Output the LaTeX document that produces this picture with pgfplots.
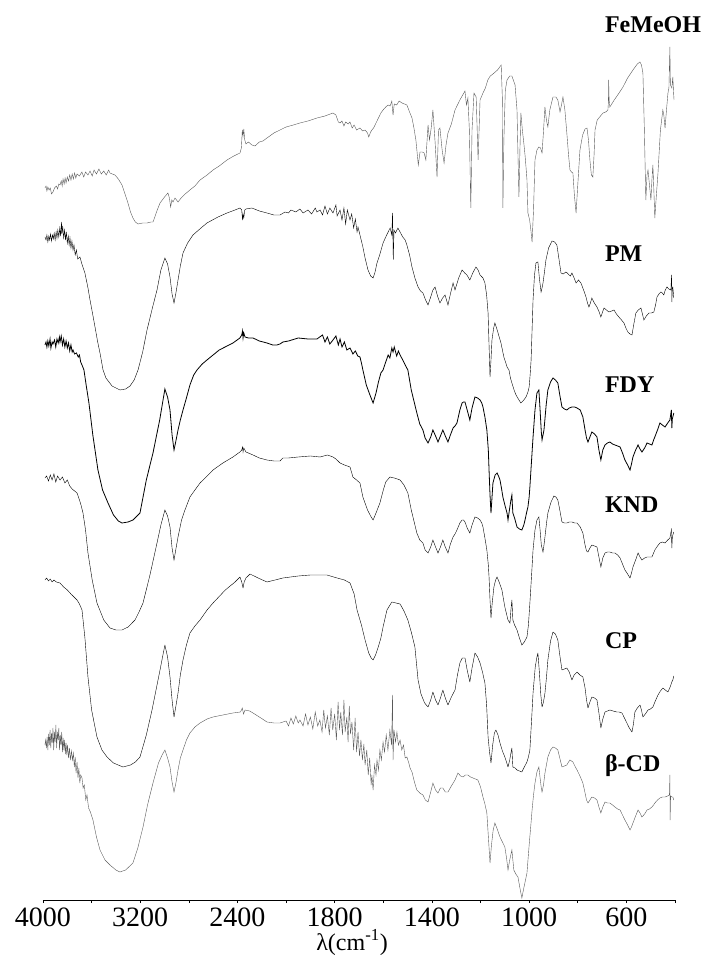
\documentclass[border=0pt]{standalone}
\usepackage{fontspec}
\setmainfont{Liberation Serif}
\usepackage{pgfplots}
\pgfplotsset{compat=1.18}
\definecolor{spec}{gray}{0.35}

\pgfplotstableread{
wn y
3984 712
3975 714
3968 709
3960 713
3950 710
3940 712
3930 706
3918 708
3905 712
3890 714
3880 711
3870 716
3860 715
3850 719
3842 714
3835 721
3826 716
3818 722
3810 717
3800 723
3790 719
3780 725
3770 720
3760 726
3750 721
3740 727
3730 722
3720 726
3700 724
3680 728
3665 723
3650 728
3630 725
3613 729
3595 724
3580 730
3560 726
3540 731
3520 726
3500 729
3480 725
3460 730
3449 727
3430 726
3408 725
3380 721
3350 715
3325 706
3301 697
3280 688
3260 682
3240 678
3218 676
3180 677
3144 677
3110 678
3095 678
3080 683
3060 690
3037 697
3000 703
2972 707
2960 702
2950 693
2940 700
2930 698
2914 702
2889 698
2870 701
2856 703
2830 706
2791 710
2750 714
2708 720
2650 725
2601 730
2550 734
2486 740
2430 744
2379 747
2368 752
2360 770
2354 764
2348 771
2340 760
2330 756
2310 758
2281 755
2256 754
2220 758
2190 759
2157 762
2100 767
2050 770
2000 773
1970 775
1943 777
1910 779
1873 782
1840 784
1807 787
1795 785
1785 778
1778 777
1770 779
1762 774
1755 778
1745 776
1737 778
1728 772
1720 775
1710 770
1696 772
1685 769
1675 770
1665 767
1660 763
1652 768
1647 770
1640 772
1630 777
1620 782
1610 787
1601 790
1590 793
1580 795
1572 794
1565 799
1560 785
1555 796
1545 795
1535 799
1523 797
1513 796
1503 795
1492 788
1482 782
1474 772
1466 760
1462 750
1456 735
1449 748
1440 748
1432 747
1425 740
1416 775
1410 760
1403 772
1396 790
1387 758
1379 723
1373 770
1367 772
1358 750
1350 737
1342 755
1334 767
1320 776
1305 790
1285 800
1264 809
1258 795
1252 802
1246 770
1240 692
1235 770
1227 807
1218 803
1210 740
1202 800
1190 807
1180 812
1170 820
1160 824
1149 826
1130 830
1115 835
1110 800
1108 692
1104 760
1098 810
1091 820
1080 824
1071 824
1058 815
1050 790
1046 745
1042 703
1038 750
1034 787
1028 770
1022 757
1017 745
1012 730
1009 720
1005 687
998 680
993 670
988 658
982 690
976 740
968 750
960 753
953 752
947 747
942 765
935 793
929 780
923 773
915 790
902 803
890 803
882 800
873 788
867 795
861 803
853 790
845 767
838 745
832 730
826 728
820 727
814 705
807 687
800 715
791 750
780 765
770 771
762 772
756 760
750 740
744 725
738 723
733 745
729 770
720 780
710 783
696 787
685 788
676 790
674 798
673 820
671 800
668 793
650 800
630 807
614 813
595 822
573 830
555 836
544 838
538 835
532 827
526 770
520 700
515 725
511 730
505 715
499 700
495 720
491 735
487 710
483 682
478 700
470 727
460 770
450 790
446 785
441 772
435 790
429 807
425 812
421 853
419 815
413 812
409 823
406 808
404 800
}\femeoh

\pgfplotstableread{
wn y
3984 663
3975 660
3968 665
3960 658
3952 664
3945 660
3938 666
3930 659
3922 665
3915 661
3908 667
3900 660
3892 668
3885 662
3878 670
3870 663
3862 672
3855 664
3848 678
3844 666
3838 674
3830 662
3822 670
3815 660
3808 668
3800 657
3792 664
3785 655
3778 662
3770 652
3762 659
3753 650
3745 655
3735 645
3725 650
3715 641
3696 643
3680 636
3655 627
3630 612
3613 600
3590 585
3572 573
3550 558
3531 547
3506 530
3482 522
3432 514
3367 510
3320 511
3284 514
3250 520
3218 530
3180 548
3144 570
3100 592
3062 610
3030 630
2997 642
2975 636
2955 623
2938 606
2922 597
2905 608
2889 620
2870 634
2848 647
2810 657
2766 665
2700 672
2651 677
2560 683
2486 687
2420 690
2379 692
2365 690
2358 680
2354 686
2348 682
2340 690
2330 691
2281 692
2220 689
2157 687
2100 685
2050 685
2009 688
1990 687
1980 690
1960 688
1943 691
1930 687
1910 690
1895 686
1880 692
1873 688
1860 690
1850 685
1840 694
1830 686
1820 692
1807 687
1795 695
1790 684
1778 690
1770 680
1762 692
1755 676
1748 690
1737 680
1730 686
1722 672
1715 681
1708 668
1704 673
1695 664
1684 653
1675 642
1663 630
1652 624
1642 622
1634 628
1626 637
1615 645
1601 657
1590 663
1580 668
1572 672
1565 665
1562 687
1559 640
1556 670
1550 667
1540 672
1531 668
1520 663
1510 660
1503 655
1492 645
1482 633
1470 622
1457 613
1447 609
1437 607
1426 600
1416 595
1405 603
1396 610
1387 613
1377 604
1367 597
1356 602
1346 605
1340 600
1334 595
1324 606
1313 617
1305 610
1290 622
1276 630
1265 627
1256 625
1244 620
1232 627
1219 633
1210 630
1202 625
1190 622
1182 617
1175 605
1169 587
1165 555
1161 523
1157 540
1153 560
1146 572
1141 577
1134 572
1128 567
1122 562
1116 557
1110 550
1104 543
1096 537
1091 533
1083 530
1077 522
1071 517
1062 510
1054 505
1042 500
1034 497
1022 500
1013 503
1005 508
1000 513
996 525
992 540
988 570
984 600
978 625
972 637
964 638
958 622
951 608
947 612
943 617
937 628
931 640
920 652
906 659
895 658
886 655
878 642
869 627
860 626
849 628
843 627
836 625
830 624
824 627
815 622
807 617
797 620
787 617
776 610
766 603
760 597
754 593
748 597
742 602
732 597
721 593
712 588
705 583
698 588
692 592
682 590
672 588
660 589
651 590
641 586
631 583
620 580
610 577
602 572
594 568
585 566
577 565
570 575
561 587
551 590
540 592
534 586
528 580
518 584
507 587
497 587
487 588
480 595
474 603
466 606
458 608
452 607
446 605
440 610
433 613
425 611
417 610
414 625
413 598
411 612
409 613
405 602
}\pm

\pgfplotstableread{
wn y
3984 555
3975 558
3968 553
3960 559
3952 554
3942 561
3935 552
3925 558
3918 556
3905 560
3895 553
3885 561
3875 557
3865 563
3860 558
3850 564
3840 555
3830 561
3820 553
3810 559
3800 552
3790 557
3780 549
3770 555
3760 548
3753 550
3740 546
3725 547
3710 543
3700 545
3690 538
3679 535
3663 530
3645 515
3622 497
3590 465
3548 430
3510 410
3465 397
3420 385
3380 379
3350 377
3300 378
3260 380
3202 387
3150 420
3095 447
3040 480
2997 511
2975 503
2955 490
2938 465
2922 450
2905 460
2889 470
2870 480
2848 490
2820 502
2791 515
2760 525
2733 530
2690 536
2651 540
2550 550
2437 557
2380 562
2365 565
2358 569
2354 562
2348 567
2338 563
2310 562
2272 562
2220 559
2157 557
2110 555
2075 555
2050 556
2026 558
1990 559
1950 562
1910 561
1873 561
1850 565
1840 558
1830 563
1820 556
1807 560
1795 564
1785 555
1778 561
1770 553
1760 558
1750 550
1737 552
1725 546
1715 549
1705 544
1696 543
1690 537
1684 530
1670 515
1655 505
1642 497
1630 507
1620 518
1610 527
1601 530
1590 538
1580 545
1573 542
1565 552
1560 548
1555 553
1545 544
1538 549
1531 545
1520 540
1510 535
1499 530
1485 510
1470 495
1462 487
1450 476
1437 470
1428 462
1416 457
1405 463
1396 470
1385 464
1375 458
1365 464
1355 470
1345 464
1334 458
1324 465
1313 472
1305 474
1297 477
1285 490
1276 497
1270 498
1264 498
1255 490
1244 480
1235 492
1223 503
1212 502
1202 500
1195 497
1190 493
1182 483
1174 470
1168 450
1165 430
1161 405
1157 387
1153 402
1149 417
1140 425
1132 427
1126 424
1120 420
1114 412
1108 403
1100 395
1091 387
1087 380
1080 392
1075 400
1071 405
1069 395
1067 387
1060 382
1050 373
1040 371
1030 370
1022 375
1017 380
1010 388
1005 393
1000 403
997 413
990 440
984 463
976 490
968 507
960 510
955 490
950 468
947 460
943 465
939 470
930 495
923 510
912 518
902 522
892 520
882 517
874 505
865 493
855 491
845 490
835 492
824 493
813 493
803 492
790 490
779 483
770 470
764 462
758 458
750 463
742 468
731 466
721 463
713 450
705 440
697 450
688 455
678 457
668 458
657 456
647 455
636 454
626 453
616 447
606 440
595 435
585 430
579 436
573 443
562 450
552 455
544 451
536 448
525 452
515 457
505 456
495 455
488 460
483 463
472 470
462 477
452 475
441 473
430 477
421 480
415 490
413 472
411 481
409 483
405 487
}\fdy

\pgfplotstableread{
wn y
3984 422
3970 424
3955 419
3940 425
3925 420
3910 426
3895 418
3880 424
3860 420
3840 423
3820 417
3800 420
3780 414
3760 411
3740 409
3720 407
3700 400
3685 394
3671 387
3650 370
3630 347
3595 320
3556 297
3500 280
3449 272
3400 270
3350 270
3300 273
3243 280
3210 288
3177 297
3120 325
3062 357
3030 375
2997 390
2975 384
2955 373
2938 352
2922 340
2905 352
2889 363
2860 380
2832 390
2791 403
2750 410
2708 417
2650 424
2601 430
2520 437
2437 443
2380 448
2365 450
2358 453
2354 448
2348 452
2330 448
2272 445
2220 442
2157 440
2100 439
2050 439
2026 442
1990 442
1950 443
1900 444
1860 443
1830 445
1807 443
1795 441
1778 437
1760 435
1737 433
1725 423
1710 420
1696 417
1684 403
1665 390
1650 383
1642 380
1630 387
1614 397
1600 410
1590 418
1573 423
1555 422
1531 420
1515 415
1499 407
1485 390
1470 375
1462 367
1450 360
1437 357
1428 350
1416 347
1405 353
1396 360
1385 353
1375 347
1365 353
1355 360
1345 353
1334 347
1324 356
1313 363
1305 366
1297 370
1285 377
1276 380
1270 380
1264 378
1255 372
1244 367
1235 375
1223 383
1212 382
1202 380
1195 377
1190 373
1182 362
1174 350
1168 335
1165 323
1161 300
1157 282
1152 297
1145 313
1138 320
1132 323
1122 317
1112 310
1105 300
1100 293
1092 285
1087 280
1079 277
1075 290
1071 300
1069 290
1067 280
1060 275
1050 270
1040 262
1030 255
1020 258
1009 263
1003 275
997 297
990 325
984 350
976 370
968 380
960 383
955 370
950 355
943 348
939 355
935 363
928 378
923 387
910 398
898 404
890 403
882 400
874 390
865 378
855 377
845 377
835 378
824 378
813 377
803 377
790 373
779 367
770 355
764 349
758 348
750 352
742 355
731 354
721 353
713 343
705 333
697 342
688 347
678 348
668 348
657 347
647 347
636 345
626 342
616 336
606 330
595 326
585 322
579 327
573 333
562 340
552 347
544 343
536 340
525 342
515 343
505 343
495 343
488 347
483 350
472 354
462 357
452 358
441 357
430 360
421 362
415 370
413 352
411 362
409 365
405 368
}\knd

\pgfplotstableread{
wn y
3984 320
3970 322
3955 319
3940 321
3925 318
3910 320
3890 318
3860 317
3830 313
3800 310
3770 306
3745 303
3720 300
3700 296
3679 290
3655 262
3630 223
3600 190
3556 163
3515 150
3473 143
3420 137
3342 133
3280 135
3240 138
3202 143
3150 165
3103 190
3070 210
3037 230
3015 244
2997 255
2975 243
2955 223
2938 200
2922 183
2905 195
2889 207
2870 225
2848 240
2820 255
2791 267
2750 274
2708 280
2650 290
2601 297
2500 310
2420 318
2379 323
2365 318
2354 312
2345 318
2330 322
2297 326
2230 322
2157 318
2090 320
2026 322
1950 324
1900 325
1832 325
1790 322
1760 320
1737 317
1720 306
1708 290
1690 275
1675 260
1660 247
1650 242
1642 240
1632 245
1622 252
1610 262
1601 273
1585 290
1565 298
1548 297
1531 296
1515 289
1499 280
1485 268
1470 253
1457 220
1445 206
1430 197
1416 193
1405 200
1396 208
1385 200
1375 195
1365 202
1355 210
1345 202
1334 195
1320 203
1305 210
1295 225
1285 237
1275 242
1264 242
1255 230
1244 218
1235 232
1223 247
1212 243
1202 237
1192 228
1182 217
1175 195
1169 163
1163 148
1157 137
1150 155
1143 167
1137 170
1128 165
1120 157
1110 149
1100 143
1092 137
1087 133
1080 140
1075 147
1071 152
1069 142
1067 133
1058 132
1050 130
1040 129
1030 128
1020 133
1009 138
1003 143
997 150
990 180
984 207
975 233
968 243
964 247
958 228
952 205
947 193
941 198
935 207
929 222
923 240
912 259
902 268
892 266
882 260
874 245
865 230
855 231
845 232
835 228
824 220
815 225
803 228
791 225
779 223
770 212
764 200
758 192
750 198
742 203
731 202
721 200
713 187
705 172
697 181
688 188
678 189
668 190
655 189
639 188
630 188
618 187
608 182
598 177
588 172
577 168
571 176
565 188
555 192
544 195
538 190
532 183
522 186
511 190
501 191
491 193
481 199
470 205
460 209
450 212
440 210
429 208
420 213
413 218
409 220
405 224
}\cp

\pgfplotstableread{
wn y
3984 155
3978 160
3972 152
3966 163
3960 150
3954 166
3948 155
3942 170
3936 152
3930 167
3924 157
3918 172
3912 150
3906 168
3900 158
3894 175
3888 152
3882 168
3876 160
3870 172
3864 150
3858 165
3852 155
3846 168
3840 148
3834 162
3828 150
3822 160
3816 146
3810 157
3804 145
3798 155
3790 142
3782 152
3775 140
3766 149
3758 140
3750 147
3742 133
3735 143
3728 127
3720 138
3712 122
3705 132
3697 117
3690 125
3679 122
3670 112
3660 115
3648 100
3638 105
3625 92
3610 88
3589 80
3560 63
3531 50
3490 40
3449 35
3400 30
3367 28
3320 30
3260 37
3220 52
3177 73
3140 95
3095 117
3050 137
3020 145
2997 150
2975 142
2955 133
2938 118
2922 108
2905 118
2889 130
2870 142
2848 150
2820 160
2791 167
2750 173
2708 177
2650 181
2601 183
2520 185
2437 187
2375 188
2360 192
2350 186
2338 190
2300 189
2272 187
2220 183
2157 178
2100 177
2050 177
2000 179
1990 174
1980 182
1970 176
1960 184
1950 177
1943 180
1930 174
1920 186
1910 175
1900 183
1890 171
1880 188
1870 174
1861 180
1852 168
1845 190
1838 172
1830 184
1822 165
1815 192
1808 170
1800 186
1793 160
1786 198
1780 170
1775 188
1768 165
1762 200
1757 168
1750 183
1745 158
1740 194
1735 166
1729 178
1722 150
1716 182
1710 148
1704 168
1698 144
1692 160
1686 140
1680 156
1675 135
1668 150
1662 125
1656 142
1650 115
1647 125
1642 110
1636 135
1630 125
1626 140
1620 130
1614 150
1608 140
1601 158
1595 148
1588 165
1581 150
1573 170
1566 155
1562 205
1560 140
1556 170
1550 158
1544 168
1538 155
1531 160
1524 150
1517 155
1510 142
1503 143
1495 137
1490 132
1482 128
1472 118
1462 110
1450 107
1437 105
1427 100
1416 98
1405 108
1396 117
1385 110
1375 107
1365 112
1355 112
1345 108
1334 108
1320 114
1305 120
1293 127
1282 124
1272 123
1262 125
1252 125
1241 123
1231 122
1221 121
1211 120
1200 113
1190 103
1182 96
1174 87
1167 60
1161 37
1155 55
1148 70
1141 77
1130 70
1120 63
1110 58
1100 53
1093 42
1087 30
1080 40
1071 50
1067 40
1063 30
1055 26
1046 23
1038 12
1030 2
1022 12
1015 20
1009 27
1000 55
993 75
988 90
982 105
976 117
968 128
960 133
955 122
950 112
947 108
941 115
935 127
929 135
923 143
912 150
902 153
892 152
882 150
874 142
865 133
855 134
845 135
838 138
832 140
826 139
820 138
812 134
803 130
791 124
779 117
770 107
764 100
758 97
750 100
742 103
731 102
721 100
713 93
705 87
697 93
688 98
678 97
668 97
657 95
647 93
636 91
626 90
616 85
606 80
595 75
585 70
579 73
573 77
562 84
552 90
544 87
536 83
525 86
515 90
505 91
495 93
488 95
483 97
472 100
462 102
452 103
441 103
430 104
423 105
421 125
420 80
418 104
413 103
409 103
405 100
}\bcd

\begin{document}
\begin{tikzpicture}[x=1pt,y=1pt]
\useasboundingbox (0,0) rectangle (705,956);
\begin{axis}[
  at={(43pt,56pt)}, anchor=south west,
  scale only axis, width=632pt, height=900pt,
  xmin=0, xmax=2600, ymin=0, ymax=900,
  axis x line=bottom, axis y line=none,
  axis line style={-, black, line width=0.8pt},
  xtick={0,400,...,2400},
  xticklabels={4000,3200,2400,1800,1400,1000,600},
  minor xtick={200,600,...,2600},
  tick align=outside,
  major tick length=3pt, minor tick length=3pt,
  tick style={black, line width=0.6pt},
  xticklabel style={font=\fontsize{28}{30}\selectfont, inner sep=0pt, yshift=-5pt},
  /pgf/number format/assume math mode=true,
  clip=false,
  x filter/.expression={x>=2000 ? (4000-x)/2 : 3000-x},
  cycle list={{spec, solid, line width=0.8pt, mark=none, line join=round}},
]
\addplot table[x=wn, y=y] {\femeoh};
\addplot table[x=wn, y=y] {\pm};
\addplot table[x=wn, y=y] {\fdy};
\addplot table[x=wn, y=y] {\knd};
\addplot table[x=wn, y=y] {\cp};
\addplot table[x=wn, y=y] {\bcd};
\begin{scope}[every node/.style={anchor=base west, inner sep=0pt, font=\bfseries\fontsize{24}{26}\selectfont}]
\node at (rel axis cs:0.889,0.9644) {FeMeOH};
\node at (rel axis cs:0.889,0.7089) {PM};
\node at (rel axis cs:0.889,0.5644) {FDY};
\node at (rel axis cs:0.889,0.4311) {KND};
\node at (rel axis cs:0.889,0.2789) {CP};
\node at (rel axis cs:0.889,0.1433) {β-CD};
\end{scope}
\node[anchor=base, inner sep=0pt, yshift=-50pt, font=\fontsize{24}{26}\selectfont] at (rel axis cs:0.489,0) {λ(cm\textsuperscript{-1})};
\end{axis}
\end{tikzpicture}
\end{document}
